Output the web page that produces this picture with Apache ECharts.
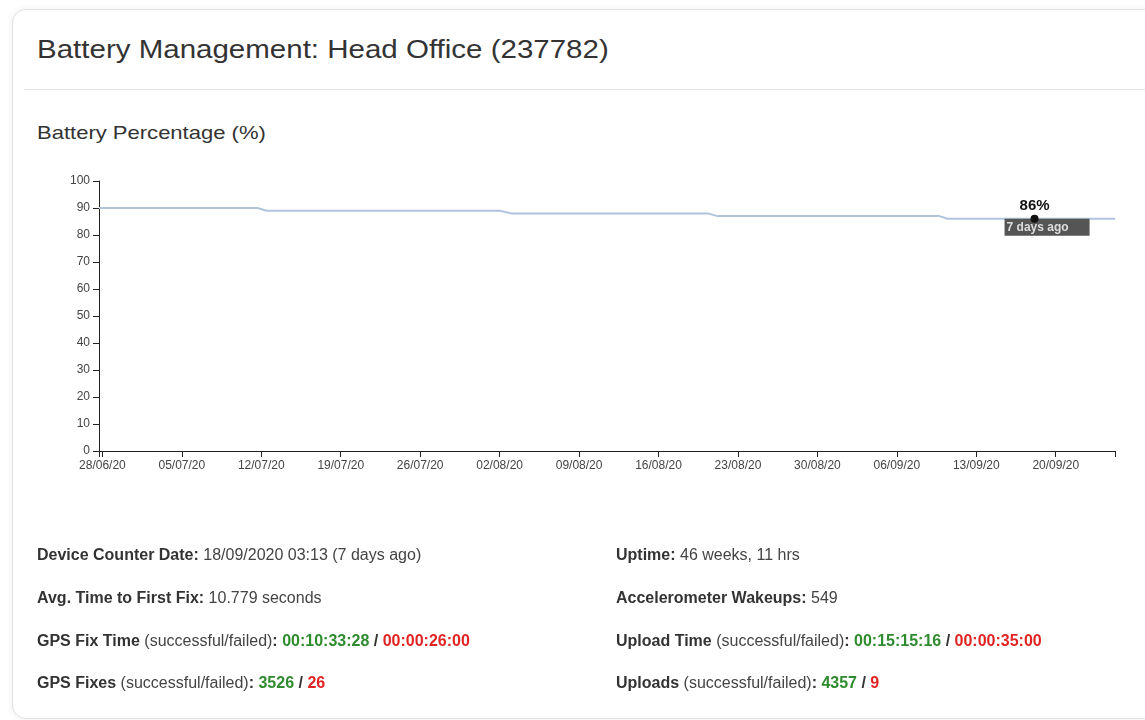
<!DOCTYPE html>
<html>
<head>
<meta charset="utf-8">
<script src="https://cdn.jsdelivr.net/npm/echarts@6/dist/echarts.min.js"></script>
<style>
  html, body { margin: 0; padding: 0; background: #fff; font-family: "Liberation Sans", Arial, sans-serif; color: #333; }
  .card { position: absolute; left: 12px; top: 9px; width: 1160px; height: 708px; border: 1px solid #e2e2e2; border-radius: 14px; box-shadow: 0 0 6px rgba(0,0,0,0.08); background: #fff; }
  .title { position: absolute; left: 37px; top: 35px; font-size: 25px; color: #333; transform: scaleX(1.18); transform-origin: left center; white-space: nowrap; }
  .sep { position: absolute; left: 24px; top: 89px; width: 1130px; height: 1px; background: #e6e6e6; }
  .sub { position: absolute; left: 37px; top: 122px; font-size: 18.5px; color: #333; transform: scaleX(1.19); transform-origin: left center; white-space: nowrap; }
  #main { position: absolute; left: 0; top: 0; width: 1145px; height: 720px; }
  .info { position: absolute; font-size: 16px; color: #444; white-space: nowrap; }
  .info b { color: #333; }
  .ok { color: #2e8b2e; font-weight: bold; }
  .bad { color: #e02424; font-weight: bold; }
</style>
</head>
<body>
<div class="card"></div>
<div class="title">Battery Management: Head Office (237782)</div>
<div class="sep"></div>
<div class="sub">Battery Percentage (%)</div>
<div id="main"></div>

<div class="info" style="left:37px;top:546px"><b>Device Counter Date:</b> 18/09/2020 03:13 (7 days ago)</div>
<div class="info" style="left:37px;top:589px"><b>Avg. Time to First Fix:</b> 10.779 seconds</div>
<div class="info" style="left:37px;top:632px"><b>GPS Fix Time</b> (successful/failed)<b>:</b> <span class="ok">00:10:33:28</span> <b>/</b> <span class="bad">00:00:26:00</span></div>
<div class="info" style="left:37px;top:674px"><b>GPS Fixes</b> (successful/failed)<b>:</b> <span class="ok">3526</span> <b>/</b> <span class="bad">26</span></div>

<div class="info" style="left:616px;top:546px"><b>Uptime:</b> 46 weeks, 11 hrs</div>
<div class="info" style="left:616px;top:589px"><b>Accelerometer Wakeups:</b> 549</div>
<div class="info" style="left:616px;top:632px"><b>Upload Time</b> (successful/failed)<b>:</b> <span class="ok">00:15:15:16</span> <b>/</b> <span class="bad">00:00:35:00</span></div>
<div class="info" style="left:616px;top:674px"><b>Uploads</b> (successful/failed)<b>:</b> <span class="ok">4357</span> <b>/</b> <span class="bad">9</span></div>

<script>
// battery readings (UTC times)
var times = [
  '2020-06-27T16:48', '2020-07-11T16:00', '2020-07-12T11:00', '2020-08-02T00:00',
  '2020-08-03T01:00', '2020-08-20T08:00', '2020-08-21T05:00', '2020-09-09T18:00',
  '2020-09-10T11:00', '2020-09-25T05:20'
];
var battery = [90, 90, 89, 89, 88, 88, 87, 87, 86, 86];

// latest device reading
var lastTime = '2020-09-18T03:13';
var lastValue = 86;
var lastLabel = '7 days ago';

var tickLabels = ['28/06/20', '05/07/20', '12/07/20', '19/07/20', '26/07/20', '02/08/20', '09/08/20',
  '16/08/20', '23/08/20', '30/08/20', '06/09/20', '13/09/20', '20/09/20'];
var yTicks = [0, 10, 20, 30, 40, 50, 60, 70, 80, 90, 100];

function ts(s) { return Date.parse(s + ':00Z'); }
function labelTs(l) {
  var p = l.split('/');
  return Date.UTC(2000 + (+p[2]), +p[1] - 1, +p[0]);
}

var xMin = ts(times[0]);
var xMax = ts(times[times.length - 1]);
var tickTs = tickLabels.map(labelTs);
var labelMap = {};
tickLabels.forEach(function (l, i) { labelMap[tickTs[i]] = l; });

var myChart = echarts.init(document.getElementById('main'));
myChart.setOption({
  animation: false,
  grid: { left: 99, top: 181, width: 1016, height: 270 },
  xAxis: {
    type: 'value',
    min: xMin,
    max: xMax,
    axisLine: { lineStyle: { color: '#222', width: 1 } },
    axisTick: { show: true, length: 6, lineStyle: { color: '#222' }, customValues: [xMin].concat(tickTs, [xMax]) },
    axisLabel: {
      customValues: tickTs,
      color: '#444', fontSize: 12, margin: 9,
      fontFamily: 'Liberation Sans',
      formatter: function (v) { return labelMap[v] || ''; }
    },
    splitLine: { show: false }
  },
  yAxis: {
    type: 'value',
    min: yTicks[0],
    max: yTicks[yTicks.length - 1],
    interval: 10,
    axisLine: { show: true, lineStyle: { color: '#222', width: 1 } },
    axisTick: { show: true, length: 6, lineStyle: { color: '#222' } },
    axisLabel: { color: '#444', fontSize: 12, margin: 9, fontFamily: 'Liberation Sans' },
    splitLine: { show: false }
  },
  series: [{
    type: 'line',
    data: times.map(function (t, i) { return [ts(t), battery[i]]; }),
    symbol: 'none',
    lineStyle: { color: '#b0c4de', width: 2 },
    z: 2
  }, {
    type: 'scatter',
    data: [[ts(lastTime), lastValue]],
    symbol: 'circle',
    symbolSize: 8,
    itemStyle: { color: '#111', opacity: 1 },
    label: {
      show: true, position: 'top', distance: 1,
      formatter: lastValue + '%',
      color: '#111', fontSize: 15, fontWeight: 'bold', fontFamily: 'Liberation Sans'
    },
    z: 4
  }, {
    type: 'scatter',
    data: [[ts(lastTime), lastValue]],
    symbolSize: 0,
    itemStyle: { opacity: 1 },
    label: {
      show: true,
      position: [-30, 0],
      formatter: lastLabel,
      backgroundColor: '#555',
      color: '#ddd', fontSize: 12, fontWeight: 'bold', fontFamily: 'Liberation Sans',
      width: 81, height: 13, padding: [2, 2, 2, 2], lineHeight: 13
    },
    z: 3
  }]
});
</script>
</body>
</html>
